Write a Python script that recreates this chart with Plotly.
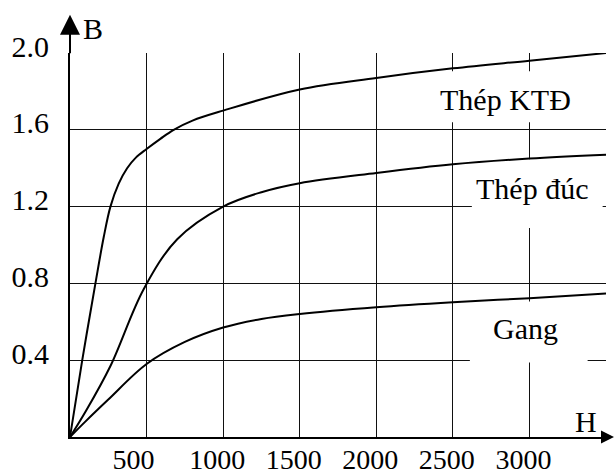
import plotly.graph_objects as go

# ---- data ----
H_ktd = [0, 80, 166, 220, 264, 318, 373, 430, 500, 590, 677, 800, 1000, 1500, 2000, 2500, 3000, 3500]
B_ktd = [0, 0.4, 0.8, 1.04, 1.2, 1.32, 1.4, 1.455, 1.5, 1.553, 1.6, 1.648, 1.7, 1.81, 1.87, 1.92, 1.96, 2.0]

H_duc = [0, 100, 264, 481, 700, 1000, 1250, 1500, 2000, 2500, 3000, 3500]
B_duc = [0, 0.13, 0.37, 0.77, 1.03, 1.2, 1.275, 1.322, 1.375, 1.42, 1.45, 1.47]

H_gang = [0, 100, 250, 500, 750, 1000, 1250, 1500, 2000, 2500, 3000, 3500]
B_gang = [0, 0.08, 0.195, 0.38, 0.495, 0.57, 0.615, 0.641, 0.676, 0.702, 0.723, 0.747]

x_ticks = [500, 1000, 1500, 2000, 2500, 3000, 3500]
x_ticktext = ["500\u2002", "1000", "1500", "2000", "2500", "3000", ""]
y_ticks = [0.4, 0.8, 1.2, 1.6, 2.0]
y_ticktext = ["0.4", "0.8", "1.2", "1.6", "2.0"]

series_names = ["Thép KTĐ", "Thép đúc", "Gang"]
label_pos = [(2845, 1.759), (3015, 1.295), (2977, 0.565)]
# white boxes behind labels: (x0, x1, y0, y1)
label_boxes = [(2380, 3440, 1.639, 1.905), (2624, 3478, 1.089, 1.446), (2611, 3380, 0.388, 0.706)]

FONT = "Times New Roman, Liberation Serif, serif"

fig = go.Figure()
for hx, by, name in [(H_ktd, B_ktd, series_names[0]),
                     (H_duc, B_duc, series_names[1]),
                     (H_gang, B_gang, series_names[2])]:
    fig.add_trace(go.Scatter(x=hx, y=by, mode="lines", name=name,
                             line=dict(color="black", width=2, shape="spline", smoothing=1.0),
                             hoverinfo="skip", showlegend=False))

shapes = []
for (x0, x1, y0, y1) in label_boxes:
    shapes.append(dict(type="rect", xref="x", yref="y", x0=x0, x1=x1, y0=y0, y1=y1,
                       fillcolor="white", line=dict(width=0), layer="between"))

annotations = []
for (lx, ly), name in zip(label_pos, series_names):
    annotations.append(dict(x=lx, y=ly, xref="x", yref="y", text=name, showarrow=False,
                            font=dict(family=FONT, size=30, color="black"),
                            xanchor="center", yanchor="middle"))
# axis letters
annotations.append(dict(x=150, y=1.0646, xref="x", yref="paper", text="B", showarrow=False,
                        font=dict(family=FONT, size=30, color="black"),
                        xanchor="center", yanchor="middle"))
annotations.append(dict(x=3367, y=0.08, xref="x", yref="y", text="H", showarrow=False,
                        font=dict(family=FONT, size=30, color="black"),
                        xanchor="center", yanchor="middle"))
# axis arrows
annotations.append(dict(x=0, y=1.0997, xref="x", yref="paper", text="", showarrow=True,
                        ax=0, ay=40, arrowhead=2, arrowsize=2.0, arrowwidth=2, arrowcolor="black"))
annotations.append(dict(x=1.0168, y=0, xref="paper", yref="y", text="", showarrow=True,
                        ax=-12, ay=0, arrowhead=2, arrowsize=1.3, arrowwidth=2, arrowcolor="black"))

fig.update_layout(
    width=615, height=475,
    margin=dict(l=70, r=9, t=53, b=38),
    paper_bgcolor="white", plot_bgcolor="white",
    annotations=annotations, shapes=shapes,
    xaxis=dict(range=[0, 3500], tickvals=x_ticks, ticktext=x_ticktext, automargin=False,
               showgrid=True, gridcolor="#111", gridwidth=1.3,
               showline=True, linecolor="black", linewidth=2,
               zeroline=False, ticks="", ticklabelshift=-6, ticklabelstandoff=-4,
               tickfont=dict(family=FONT, size=28, color="black"), fixedrange=True),
    yaxis=dict(range=[0, 2.0], tickvals=y_ticks, ticktext=y_ticktext, automargin=False,
               showgrid=True, gridcolor="#111", gridwidth=1.3,
               showline=True, linecolor="black", linewidth=2,
               zeroline=False, ticks="", ticklabelshift=-7, ticklabelstandoff=13,
               tickfont=dict(family=FONT, size=30, color="black"), fixedrange=True),
)

fig.write_html("out.html", config={"displayModeBar": False},
               post_script="document.body.style.margin='0';document.body.style.padding='0';")
